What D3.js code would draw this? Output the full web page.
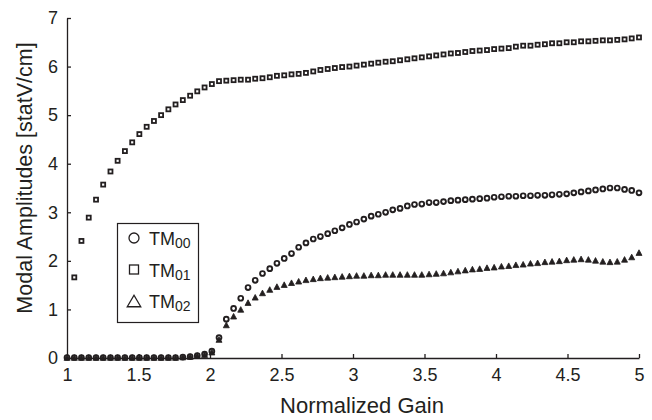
<!DOCTYPE html>
<html>
<head>
<meta charset="utf-8">
<script src="https://cdn.jsdelivr.net/npm/d3@7"></script>
<style>
  html, body { margin: 0; padding: 0; background: #fff; }
  svg { display: block; }
  text { font-family: "Liberation Sans", Arial, Helvetica, sans-serif; fill: #231f20; }
</style>
</head>
<body>
<svg id="chart" width="652" height="420"></svg>
<script>
// Normalized gain sample points (80 samples from 1 to 5)
const gain = [
  1.000, 1.051, 1.101, 1.152, 1.203, 1.253, 1.304, 1.354, 1.405, 1.456,
  1.506, 1.557, 1.608, 1.658, 1.709, 1.759, 1.810, 1.861, 1.911, 1.962,
  2.013, 2.063, 2.114, 2.165, 2.215, 2.266, 2.316, 2.367, 2.418, 2.468,
  2.519, 2.570, 2.620, 2.671, 2.722, 2.772, 2.823, 2.873, 2.924, 2.975,
  3.025, 3.076, 3.127, 3.177, 3.228, 3.278, 3.329, 3.380, 3.430, 3.481,
  3.532, 3.582, 3.633, 3.684, 3.734, 3.785, 3.835, 3.886, 3.937, 3.987,
  4.038, 4.089, 4.139, 4.190, 4.241, 4.291, 4.342, 4.392, 4.443, 4.494,
  4.544, 4.595, 4.646, 4.696, 4.747, 4.797, 4.848, 4.899, 4.949, 5.000
];

// TM00 mode amplitude [statV/cm]
const tm00 = [
  0.01, 0.01, 0.01, 0.01, 0.01, 0.01, 0.01, 0.01, 0.01, 0.01,
  0.01, 0.01, 0.01, 0.01, 0.01, 0.01, 0.02, 0.03, 0.05, 0.08,
  0.14, 0.42, 0.80, 1.02, 1.23, 1.45, 1.60, 1.74, 1.84, 1.95,
  2.05, 2.15, 2.28, 2.37, 2.45, 2.50, 2.56, 2.62, 2.68, 2.75,
  2.80, 2.86, 2.92, 2.96, 3.00, 3.05, 3.08, 3.13, 3.16, 3.17,
  3.20, 3.20, 3.22, 3.24, 3.25, 3.26, 3.27, 3.28, 3.29, 3.31,
  3.32, 3.33, 3.33, 3.34, 3.34, 3.35, 3.35, 3.36, 3.37, 3.38,
  3.40, 3.42, 3.44, 3.46, 3.48, 3.50, 3.50, 3.47, 3.45, 3.40
];

// TM01 mode amplitude [statV/cm] (no sample at gain = 1)
const tm01 = [
  null, 1.66, 2.41, 2.89, 3.26, 3.57, 3.84, 4.06, 4.26, 4.44,
  4.61, 4.76, 4.88, 5.00, 5.12, 5.22, 5.31, 5.40, 5.49, 5.57,
  5.64, 5.70, 5.71, 5.72, 5.73, 5.73, 5.75, 5.76, 5.78, 5.81,
  5.82, 5.84, 5.85, 5.87, 5.90, 5.93, 5.95, 5.97, 5.99, 6.00,
  6.02, 6.04, 6.06, 6.08, 6.10, 6.11, 6.13, 6.15, 6.17, 6.19,
  6.21, 6.23, 6.25, 6.27, 6.28, 6.30, 6.32, 6.33, 6.34, 6.36,
  6.37, 6.38, 6.41, 6.43, 6.43, 6.45, 6.46, 6.48, 6.48, 6.50,
  6.50, 6.52, 6.52, 6.53, 6.54, 6.54, 6.55, 6.56, 6.58, 6.60
];

// TM02 mode amplitude [statV/cm]
const tm02 = [
  0.01, 0.01, 0.01, 0.01, 0.01, 0.01, 0.01, 0.01, 0.01, 0.01,
  0.01, 0.01, 0.01, 0.01, 0.01, 0.01, 0.02, 0.03, 0.05, 0.07,
  0.12, 0.38, 0.68, 0.86, 1.00, 1.14, 1.25, 1.34, 1.41, 1.47,
  1.51, 1.55, 1.58, 1.61, 1.63, 1.65, 1.66, 1.67, 1.68, 1.69,
  1.70, 1.70, 1.71, 1.71, 1.72, 1.72, 1.72, 1.72, 1.72, 1.72,
  1.73, 1.74, 1.75, 1.77, 1.79, 1.81, 1.83, 1.84, 1.86, 1.87,
  1.89, 1.90, 1.92, 1.93, 1.95, 1.96, 1.98, 1.99, 2.00, 2.02,
  2.03, 2.04, 2.03, 2.01, 1.99, 1.98, 1.99, 2.03, 2.08, 2.17
];

const xTicks = [1, 1.5, 2, 2.5, 3, 3.5, 4, 4.5, 5];
const yTicks = [0, 1, 2, 3, 4, 5, 6, 7];
const legendNames = ["00", "01", "02"];

const ink = "#231f20";
const svg = d3.select("#chart");

const x = d3.scaleLinear().domain([1, 5]).range([67, 639]);
const y = d3.scaleLinear().domain([0, 7]).range([358, 18]);

// Axes: left and bottom only, ticks pointing inward
const xAxis = svg.append("g")
  .attr("transform", `translate(0,${y(0)})`)
  .call(d3.axisBottom(x).tickValues(xTicks).tickFormat(d => String(d))
    .tickSizeInner(-4).tickSizeOuter(0).tickPadding(10));
const yAxis = svg.append("g")
  .attr("transform", `translate(${x(1)},0)`)
  .call(d3.axisLeft(y).tickValues(yTicks).tickFormat(d => String(d))
    .tickSizeInner(-4).tickSizeOuter(0).tickPadding(9));

[xAxis, yAxis].forEach(g => {
  g.select(".domain").attr("stroke", ink).attr("stroke-width", 1.3);
  g.selectAll(".tick line").attr("stroke", ink).attr("stroke-width", 1.3);
  g.selectAll(".tick text").attr("fill", ink)
    .style("font-family", '"Liberation Sans", Arial, sans-serif')
    .style("font-size", "18px");
});

// Axis titles
svg.append("text")
  .attr("x", 362).attr("y", 413)
  .attr("text-anchor", "middle")
  .style("font-size", "22px")
  .text("Normalized Gain");

svg.append("text")
  .attr("transform", "translate(32,178) rotate(-90)")
  .attr("text-anchor", "middle")
  .style("font-size", "21.5px")
  .text("Modal Amplitudes [statV/cm]");

// Marker shapes
const triPath = (cx, cy, w, h) =>
  `M${cx - w / 2},${cy + h / 2}L${cx + w / 2},${cy + h / 2}L${cx},${cy - h / 2}Z`;

const pts = (vals) => gain.map((g, i) => ({ g, v: vals[i] })).filter(d => d.v != null);

const plot = svg.append("g");

// TM01 squares
plot.append("g").selectAll("rect")
  .data(pts(tm01)).join("rect")
  .attr("x", d => x(d.g) - 2).attr("y", d => y(d.v) - 2)
  .attr("width", 4).attr("height", 4)
  .attr("fill", "#fff").attr("stroke", ink).attr("stroke-width", 1.8);

// TM00 circles
plot.append("g").selectAll("circle")
  .data(pts(tm00)).join("circle")
  .attr("cx", d => x(d.g)).attr("cy", d => y(d.v))
  .attr("r", 2.4)
  .attr("fill", "#fff").attr("stroke", ink).attr("stroke-width", 1.9);

// TM02 filled triangles
plot.append("g").selectAll("path")
  .data(pts(tm02)).join("path")
  .attr("d", d => triPath(x(d.g), y(d.v), 6, 5.6))
  .attr("fill", ink).attr("stroke", ink).attr("stroke-width", 0.8)
  .attr("stroke-linejoin", "round");

// Legend
const legend = svg.append("g");
legend.append("rect")
  .attr("x", 117.5).attr("y", 223.5).attr("width", 81).attr("height", 99)
  .attr("fill", "#fff").attr("stroke", ink).attr("stroke-width", 1.2);

const rowY = [238, 269.5, 301];
legend.append("circle")
  .attr("cx", 134).attr("cy", rowY[0]).attr("r", 5)
  .attr("fill", "none").attr("stroke", ink).attr("stroke-width", 1.3);
legend.append("rect")
  .attr("x", 129.5).attr("y", rowY[1] - 4.5).attr("width", 9).attr("height", 9)
  .attr("fill", "none").attr("stroke", ink).attr("stroke-width", 1.3);
legend.append("path")
  .attr("d", triPath(134, rowY[2], 13.5, 11.5))
  .attr("fill", "none").attr("stroke", ink).attr("stroke-width", 1.3)
  .attr("stroke-linejoin", "miter");

legendNames.forEach((n, i) => {
  const t = legend.append("text")
    .attr("x", 149).attr("y", rowY[i] + 7)
    .style("font-size", "18px");
  t.append("tspan").text("TM");
  t.append("tspan").attr("dy", 3).style("font-size", "14px").text(n);
});
</script>
</body>
</html>
